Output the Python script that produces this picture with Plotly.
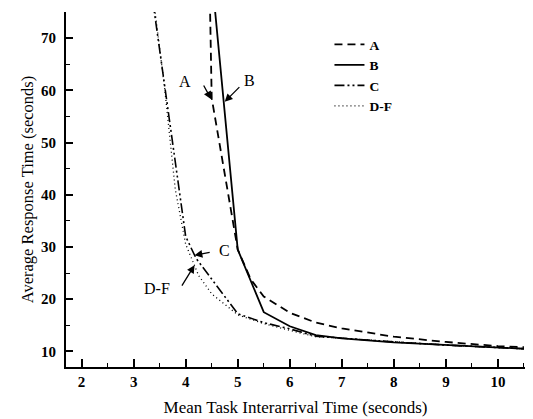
import plotly.graph_objects as go

# --- data ---
a_x = [4.4, 4.5, 5.0, 5.25, 5.5, 6.0, 6.5, 7.0, 8.0, 9.0, 10.0, 10.5]
a_y = [112, 58.5, 29.5, 23.8, 20.5, 17.4, 15.5, 14.4, 12.8, 11.8, 11.0, 10.8]

b_x = [4.5, 5.0, 5.5, 6.0, 6.5, 7.0, 8.0, 9.0, 10.0, 10.5]
b_y = [82, 29.5, 17.5, 14.8, 13.1, 12.5, 11.7, 11.2, 10.7, 10.5]

c_x = [3.3, 4.0, 4.2, 5.0, 5.5, 6.0, 6.5, 7.0, 8.0, 9.0, 10.0, 10.5]
c_y = [82, 32, 27.8, 17.2, 15.5, 14.3, 12.9, 12.5, 11.8, 11.2, 10.7, 10.5]

df_x = [3.3, 3.6, 3.8, 4.0, 4.25, 4.5, 5.0, 5.5, 6.0, 6.5, 7.0, 8.0, 9.0, 10.0, 10.5]
df_y = [84, 60, 41, 30.5, 24.5, 21.0, 17.0, 15.3, 14.0, 12.8, 12.5, 11.8, 11.2, 10.7, 10.5]

x_ticks = [2, 3, 4, 5, 6, 7, 8, 9, 10]
y_ticks = [10, 20, 30, 40, 50, 60, 70]

# callouts: label, label position, arrow tail, arrow tip
callouts = [
    ("A", 3.98, 61.6, 4.33, 61.2, 4.49, 58.3),
    ("B", 5.23, 61.9, 5.06, 60.9, 4.75, 57.8),
    ("C", 4.75, 29.3, 4.49, 29.0, 4.17, 28.4),
    ("D-F", 3.44, 22.0, 3.91, 22.3, 4.17, 26.5),
]

SERIF = "Liberation Serif, DejaVu Serif, serif"

fig = go.Figure()
fig.add_trace(go.Scatter(x=a_x, y=a_y, mode="lines", name="A",
                         line=dict(color="black", width=1.8, dash="8px,5px")))
fig.add_trace(go.Scatter(x=b_x, y=b_y, mode="lines", name="B",
                         line=dict(color="black", width=1.8)))
fig.add_trace(go.Scatter(x=c_x, y=c_y, mode="lines", name="C",
                         line=dict(color="black", width=1.6,
                                   dash="10px,3px,2px,3px,2px,3px")))
fig.add_trace(go.Scatter(x=df_x, y=df_y, mode="lines", name="D-F",
                         line=dict(color="black", width=1.3, dash="1px,3px")))

for label, tx, ty, axx, ayy, hx, hy in callouts:
    fig.add_annotation(x=tx, y=ty, xref="x", yref="y", text=label,
                       showarrow=False,
                       font=dict(family=SERIF, size=16, color="black"))
    fig.add_annotation(x=hx, y=hy, ax=axx, ay=ayy, xref="x", yref="y",
                       axref="x", ayref="y", text="", showarrow=True,
                       arrowhead=2, arrowsize=1.2, arrowwidth=1.3,
                       arrowcolor="black")

# the page body adds an 8px offset, so the figure is 8px smaller each way
fig.update_layout(
    width=525, height=411,
    margin=dict(l=58, r=8, t=4, b=52, autoexpand=False),
    paper_bgcolor="white", plot_bgcolor="white",
    font=dict(family=SERIF, color="black"),
    showlegend=True,
    legend=dict(x=0.574, y=0.952, xanchor="left", yanchor="top",
                bgcolor="rgba(0,0,0,0)",
                font=dict(family=SERIF, size=13.5, color="black",
                          weight="bold"),
                tracegroupgap=0, itemwidth=30),
)
fig.update_xaxes(
    range=[1.7, 10.52], tickmode="array", tickvals=x_ticks,
    ticktext=[str(v) for v in x_ticks], automargin=False,
    ticks="inside", ticklen=8, tickwidth=1.5, tickcolor="black",
    showline=True, linecolor="black", linewidth=2,
    showgrid=False, zeroline=False,
    minor=dict(dtick=0.5, tick0=2, ticks="inside", ticklen=4,
               tickwidth=1.2, tickcolor="black", showgrid=False),
    tickfont=dict(family=SERIF, size=15, color="black", weight="bold"),
    title=dict(text="Mean Task Interarrival Time (seconds)",
               font=dict(family=SERIF, size=17, color="black"), standoff=12),
)
fig.update_yaxes(
    range=[7, 75], tickmode="array", tickvals=y_ticks,
    ticktext=[str(v) for v in y_ticks], automargin=False,
    ticks="inside", ticklen=7, tickwidth=1.5, tickcolor="black",
    showline=True, linecolor="black", linewidth=2,
    showgrid=False, zeroline=False, ticklabelstandoff=5,
    minor=dict(dtick=5, tick0=5, ticks="inside", ticklen=4,
               tickwidth=1.2, tickcolor="black", showgrid=False),
    tickfont=dict(family=SERIF, size=15, color="black", weight="bold"),
    title=dict(text="Average Response Time (seconds)",
               font=dict(family=SERIF, size=16.5, color="black"), standoff=3),
)

fig.write_html("out.html")
